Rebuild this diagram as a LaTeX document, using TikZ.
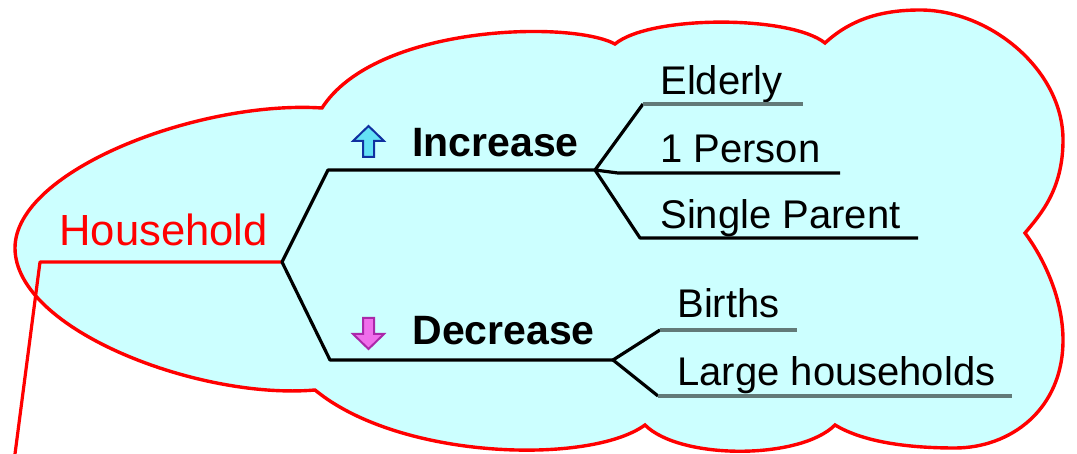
\documentclass[tikz,border=0pt]{standalone}
\usepackage{fontspec}
\setmainfont{Liberation Sans}
\usetikzlibrary{positioning}
\definecolor{cloudfill}{RGB}{204,255,255}
\definecolor{leafgray}{RGB}{98,122,120}
\definecolor{upblue}{RGB}{16,48,160}
\definecolor{upcyan}{RGB}{100,225,245}
\definecolor{downmag}{RGB}{170,40,170}
\definecolor{downpink}{RGB}{240,110,235}

\begin{document}
\begin{tikzpicture}[x=0.5pt, y=-0.5pt,
		every node/.style = {inner sep=0pt, anchor=base west, font=\fontsize{20}{24}\selectfont},
		topic/.style = {font=\fontsize{20.5}{24}\selectfont\bfseries},
		branch/.style = {draw=black, line width=1.6pt, line join=round},
		leafline/.style = {draw=leafgray, line width=2.2pt},
		redline/.style = {draw=red, line width=1.6pt, line join=round}
	]
	\useasboundingbox (0,0) rectangle (1077,454);

	% cloud
	\path[fill=cloudfill, draw=red, line width=1.7pt]
	(322,108) .. controls (375,25) and (570,20) .. (615,44)
	.. controls (650,15) and (790,15) .. (825,43)
	.. controls (850,20) and (880,10) .. (920,10)
	.. controls (990,10) and (1063,70) .. (1063,140)
	.. controls (1063,190) and (1040,215) .. (1025,233)
	.. controls (1045,260) and (1063,300) .. (1063,340)
	.. controls (1063,410) and (1010,448) .. (955,448)
	.. controls (900,448) and (860,440) .. (835,425)
	.. controls (800,460) and (680,460) .. (645,425)
	.. controls (590,465) and (400,460) .. (315,390)
	.. controls (200,400) and (15,330) .. (15,248)
	.. controls (15,170) and (200,100) .. (322,108) -- cycle;

	% joints
	\coordinate (tail) at (15,454);
	\coordinate (hhL) at (40,262);
	\coordinate (root) at (282,262);
	\coordinate (incL) at (328,170);
	\coordinate (incR) at (595,170);
	\coordinate (decL) at (330,360);
	\coordinate (decR) at (613,360);
	\coordinate (eldL) at (643,104);
	\coordinate (eldR) at (803,104);
	\coordinate (perL) at (618,173);
	\coordinate (perR) at (840,173);
	\coordinate (sinL) at (640,238);
	\coordinate (sinR) at (918,238);
	\coordinate (birL) at (660,330);
	\coordinate (birR) at (797,330);
	\coordinate (larL) at (658,396);
	\coordinate (larR) at (1012,396);

	\node (hh) [text=red, font=\fontsize{21.8}{24}\selectfont] at (59,246) {Household};
	\node (inc) [topic] at (412,157) {Increase};
	\node (dec) [topic] at (412,345) {Decrease};
	\node (eld) at (660,95) {Elderly};
	\node (per) at (660,163) {1 Person};
	\node (sin) at (660,229) {Single Parent};
	\node (bir) at (677,318) {Births};
	\node (lar) at (677,386) {Large households};

	% arrows before the topics
	\filldraw[fill=upcyan, draw=upblue, line width=1pt] (368.5,126) -- (384,141) -- (374,141) -- (374,157) -- (363,157) -- (363,141) -- (353,141) -- cycle;
	\filldraw[fill=downpink, draw=downmag, line width=1pt] (368.5,349) -- (384,334) -- (374,334) -- (374,318) -- (363,318) -- (363,334) -- (353,334) -- cycle;

	\draw[redline] (tail) -- (hhL) -- (root);
	\draw[branch] (incR) -- (incL) -- (root) -- (decL) -- (decR);
	\draw[branch] (eldL) -- (incR) -- (perL) -- (perR);
	\draw[branch] (incR) -- (sinL) -- (sinR);
	\draw[branch] (birL) -- (decR) -- (larL);
	\draw[leafline] (eldL) -- (eldR);
	\draw[leafline] (birL) -- (birR);
	\draw[leafline] (larL) -- (larR);
\end{tikzpicture}
\end{document}
